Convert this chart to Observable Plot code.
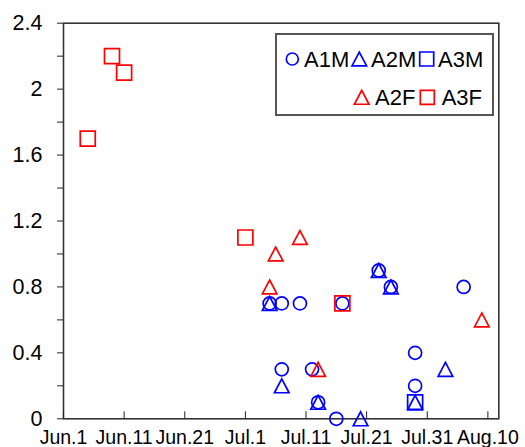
<!DOCTYPE html>
<html><head><meta charset="utf-8">
<script src="https://cdn.jsdelivr.net/npm/d3@7"></script>
<script src="https://cdn.jsdelivr.net/npm/@observablehq/plot@0.6"></script>
<style>
body{margin:0;background:#fff;}
#wrap{position:relative;width:525px;height:447px;font-family:"Liberation Sans",Arial,sans-serif;}
#legend{position:absolute;left:275px;top:33px;}
</style></head><body><div id="wrap"></div>
<script>
// ---- data ----
const xTickDates = ["2000-06-01","2000-06-11","2000-06-21","2000-07-01","2000-07-11","2000-07-21","2000-07-31","2000-08-10"];
const xTickLabels = ["Jun.1","Jun.11","Jun.21","Jul.1","Jul.11","Jul.21","Jul.31","Aug.10"];
const yTicks = [0,0.2,0.4,0.6,0.8,1.0,1.2,1.4,1.6,1.8,2.0,2.2,2.4];
const yTickLabels = ["0","","0.4","","0.8","","1.2","","1.6","","2","","2.4"];

const seriesNames  = ["A1M","A2M","A3M","A2F","A3F"];
const seriesColors = ["blue","blue","blue","red","red"];
const seriesShapes = ["circle","triangle","square","triangle","square"];

const a1mDates  = ["2000-07-05","2000-07-07","2000-07-07","2000-07-10","2000-07-12","2000-07-13","2000-07-16","2000-07-17","2000-07-23","2000-07-25","2000-07-29","2000-07-29","2000-08-06"];
const a1mValues = [0.7,0.7,0.3,0.7,0.3,0.1,0,0.7,0.9,0.8,0.4,0.2,0.8];
const a2mDates  = ["2000-07-05","2000-07-07","2000-07-13","2000-07-20","2000-07-23","2000-07-25","2000-07-29","2000-08-03"];
const a2mValues = [0.7,0.2,0.1,0,0.9,0.8,0.1,0.3];
const a3mDates  = ["2000-07-29"];
const a3mValues = [0.1];
const a2fDates  = ["2000-07-05","2000-07-06","2000-07-10","2000-07-13","2000-08-09"];
const a2fValues = [0.8,1.0,1.1,0.3,0.6];
const a3fDates  = ["2000-06-05","2000-06-09","2000-06-11","2000-07-01","2000-07-17"];
const a3fValues = [1.7,2.2,2.1,1.1,0.7];

// ---- build ----
const parse = s => new Date(s + "T00:00:00Z");
const seriesDates = [a1mDates,a2mDates,a3mDates,a2fDates,a3fDates];
const seriesValues = [a1mValues,a2mValues,a3mValues,a2fValues,a3fValues];

const symbols = {
  circle: {draw(ctx,size){const r=Math.sqrt(size/Math.PI); ctx.moveTo(r,0); ctx.arc(0,0,r,0,2*Math.PI); ctx.closePath();}},
  square: {draw(ctx,size){const r=Math.sqrt(size/Math.PI); ctx.rect(-r,-r,2*r,2*r);}},
  triangle: {draw(ctx,size){const r=Math.sqrt(size/Math.PI); ctx.moveTo(0,-0.95*r); ctx.lineTo(r,0.95*r); ctx.lineTo(-r,0.95*r); ctx.closePath();}}
};
const symR = {circle:6.5, square:7.5, triangle:7.3};

const xTicks = xTickDates.map(parse);
const xLabelMap = new Map(xTicks.map((d,i)=>[+d, xTickLabels[i]]));
const yLabelMap = new Map(yTicks.map((d,i)=>[d, yTickLabels[i]]));

const start = parse("2000-06-01");
const dayMs = 86400000;
const xDomain = [start, new Date(+start + 71.8*dayMs)];

const dotMarks = seriesNames.map((name,k) => {
  const data = seriesDates[k].map((d,i)=>({date: parse(d), value: seriesValues[k][i]}));
  return Plot.dot(data, {x:"date", y:"value", symbol: symbols[seriesShapes[k]], r: symR[seriesShapes[k]],
    stroke: seriesColors[k], fill: "none", strokeWidth: 1.7});
});

const chart = Plot.plot({
  width: 525, height: 447,
  marginLeft: 63, marginRight: 26.7, marginTop: 22.7, marginBottom: 28.7,
  style: {fontFamily: '"Liberation Sans", Arial, sans-serif', background: "#fff", overflow: "visible"},
  x: {type: "utc", domain: xDomain, label: null},
  y: {domain: [0, 2.4], label: null},
  marks: [
    Plot.frame({stroke: "#333", strokeWidth: 1.6}),
    Plot.axisY(yTicks, {tickSize: 6, tickPadding: 15, tickFormat: d => yLabelMap.get(d), fontSize: 21.5, stroke: "#222", fill: "#000", label: null}),
    Plot.axisX(xTicks, {tickSize: -7, tickPadding: 18.5, tickFormat: d => xLabelMap.get(+d), fontSize: 19.5, stroke: "#222", fill: "#000", label: null}),
    ...dotMarks
  ]
});
document.getElementById("wrap").appendChild(chart);

// ---- legend (overlay) ----
const lw = 220, lh = 84;
const leg = d3.select("#wrap").append("svg").attr("id","legend").attr("width",lw).attr("height",lh);
leg.append("rect").attr("x",1).attr("y",1).attr("width",lw-3).attr("height",lh-3)
  .attr("fill","#fff").attr("stroke","#555").attr("stroke-width",2);
const legendItems = [
  {k:0, cx:17.3, cy:26, tx:29},
  {k:1, cx:84.3, cy:26, tx:96},
  {k:2, cx:151.7, cy:26, tx:163},
  {k:3, cx:86.7, cy:64.3, tx:100},
  {k:4, cx:152.3, cy:64.3, tx:166.7}
];
legendItems.forEach(it => {
  const shape = seriesShapes[it.k];
  const r = shape === "circle" ? 6 : shape === "square" ? 7 : 7.3;
  leg.append("path").attr("transform",`translate(${it.cx},${it.cy})`)
    .attr("d", d3.symbol(symbols[shape], Math.PI*r*r)())
    .attr("fill","none").attr("stroke",seriesColors[it.k]).attr("stroke-width",1.7);
  leg.append("text").attr("x",it.tx).attr("y",it.cy+8).attr("font-size",22)
    .attr("font-family",'"Liberation Sans", Arial, sans-serif').text(seriesNames[it.k]);
});
</script></body></html>
